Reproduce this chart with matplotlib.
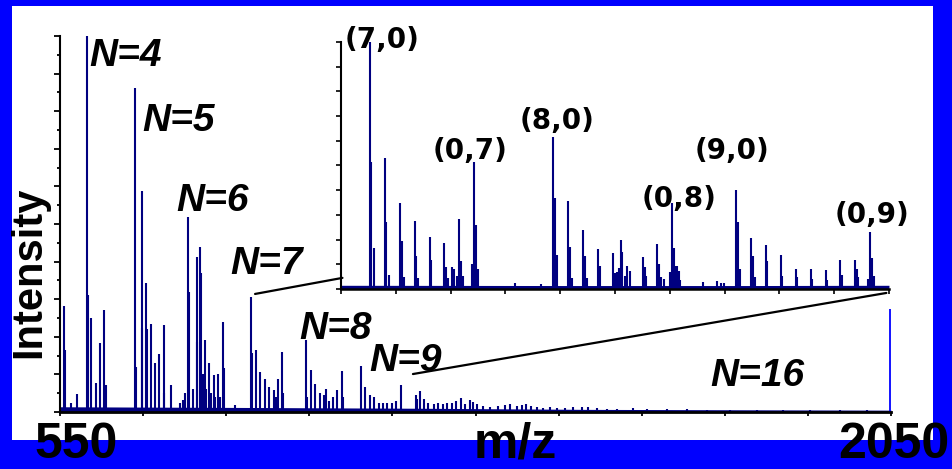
import numpy as np
import matplotlib
matplotlib.use('Agg')
import matplotlib.pyplot as plt
from matplotlib.patches import Rectangle, ConnectionPatch

# main spectrum (m/z, relative intensity %)
main_mz = [556.7, 559.0, 570.4, 581.2, 598.2, 599.6, 605.4, 614.1, 621.7, 630.0, 632.1,
           685.4, 686.8, 697.1, 698.6, 704.7, 706.1, 713.4, 721.5, 729.2, 736.8, 738.5, 749.8,
           766.6, 771.5, 775.6, 781.1, 782.9, 789.5, 796.4, 797.8, 803.3, 804.9, 808.0, 811.7,
           814.0, 819.5, 822.0, 827.4, 830.0, 835.7, 838.0, 844.2, 846.4, 865.9,
           894.8, 897.1, 903.3, 911.6, 919.1, 927.3, 935.4, 940.0, 943.2, 951.3, 953.0,
           994.1, 996.4, 1002.6, 1010.3, 1018.4, 1026.5, 1030.7, 1035.0, 1042.8, 1050.6, 1058.5, 1060.5,
           1093.3, 1101.1, 1109.6, 1117.3, 1125.0, 1133.0, 1141.0, 1149.3, 1157.0, 1165.5,
           1192.6, 1195.0, 1199.8, 1207.6, 1215.0, 1225.0, 1232.0,
           1241.9, 1248.0, 1257.0, 1264.8, 1273.3, 1281.1, 1290.1, 1296.1, 1303.3, 1314.1, 1326.2,
           1341.2, 1353.3, 1362.3, 1374.4, 1383.4, 1391.2, 1399.7, 1410.5, 1422.4, 1434.5, 1446.6,
           1461.6, 1476.6, 1491.7, 1503.6, 1518.8, 1536.8, 1554.9, 1584.9, 1609.0, 1645.1, 1681.2,
           1717.3, 1759.4, 1807.6, 1855.6, 1903.8, 1958.0, 2006.1]
main_int = [28.2, 16.5, 2.4, 4.8, 100, 31, 25, 7.8, 18.3, 27, 7.2,
            86.3, 12, 58.9, 22.3, 34.2, 22, 23.5, 13, 15.3, 23.1, 5, 7.2,
            2.4, 3.2, 5, 51.9, 32, 6, 41.3, 18.7, 43.8, 36.9, 10, 19.1,
            6, 13, 5, 9.8, 4, 10.2, 4, 24, 11.7, 1.9,
            30.7, 15.8, 16.4, 10.7, 8.7, 6.6, 5.9, 4, 8.8, 15.9, 5,
            19.1, 4, 11.2, 7.4, 5.1, 4.5, 6.1, 3, 4, 5.9, 10.9, 4,
            12.3, 6.6, 4.5, 3.9, 2.4, 2.4, 2.4, 2.4, 3, 7.2,
            4.5, 3.5, 5.7, 3.5, 2.5, 2, 2.4,
            2.0, 2.5, 2.3, 2.8, 3.7, 2.2, 3.1, 2.6, 2.2, 1.5, 1.3,
            1.6, 1.8, 2.0, 1.6, 1.9, 2.1, 1.6, 1.3, 1.2, 1.3, 1.1,
            1.2, 1.3, 1.4, 1.3, 1.0, 0.9, 0.8, 1.0, 0.8, 0.7, 0.7,
            0.6, 0.6, 0.6, 0.5, 0.5, 0.5, 0.5]
main_noise_mz = [550, 900, 1200, 1500, 2050]
main_noise = [1.4, 1.2, 1.0, 0.7, 0.5]
end_mz = 2048
end_int = 27.4

# zoomed region (inset)
inset_mz = [894.8, 895.5, 897.0, 902.9, 903.6, 904.9, 910.8, 911.8, 913.0, 919.0, 919.9, 921.0,
            927.1, 928.0, 935.1, 936.0, 937.2, 938.9, 940.0, 941.7, 943.2, 944.1, 945.4,
            950.2, 951.3, 952.0, 953.1, 973.4, 987.6,
            994.0, 994.9, 995.9, 1002.1, 1003.0, 1004.1, 1010.2, 1011.3, 1012.2, 1018.4, 1019.2,
            1026.3, 1027.4, 1028.5, 1029.5, 1030.8, 1031.5, 1033.0, 1034.1, 1035.5,
            1042.6, 1043.6, 1044.4, 1050.5, 1051.6, 1052.7, 1053.9, 1057.5,
            1058.6, 1059.3, 1060.3, 1061.2, 1062.1, 1063.0, 1075.1, 1082.7, 1085.0, 1086.8,
            1093.2, 1094.0, 1095.0, 1101.3, 1102.2, 1103.3, 1109.4, 1110.1, 1117.6, 1118.3,
            1125.5, 1126.2, 1133.6, 1134.4, 1141.7, 1142.5, 1149.7, 1150.4,
            1157.8, 1158.6, 1159.3, 1164.9, 1165.8, 1166.7, 1167.8]
inset_int = [100, 51.3, 16.5, 53.2, 27.3, 5.7, 34.7, 19.4, 5, 27.7, 13.4, 4.5,
             20.9, 11.7, 18.7, 9, 4.6, 8.8, 8, 5.3, 28.2, 11.5, 5.3,
             10, 51.4, 25.9, 8, 2.6, 2,
             61.7, 36.7, 13.8, 35.6, 16.9, 4.5, 23.9, 13.4, 4.5, 16.2, 9.3,
             14.7, 6.6, 7, 8.4, 19.8, 15.1, 5.3, 9.3, 7.3,
             13.1, 8.8, 5.3, 18.2, 10.1, 5, 4, 7,
             34.9, 16.5, 9.4, 9.4, 7.3, 3.7, 2.7, 3.2, 2.5, 2.5,
             40.1, 27, 8, 20.5, 13.4, 4.9, 17.8, 11.5, 13.8, 5.3,
             8, 4.9, 8.1, 4, 7.7, 3.8, 11.7, 5.7,
             11.7, 8, 4.9, 4, 23, 12.4, 5.4]
inset_noise_mz = [879, 1000, 1100, 1176]
inset_noise = [1.5, 1.4, 1.4, 1.5]

main_labels = ['N=4', 'N=5', 'N=6', 'N=7', 'N=8', 'N=9', 'N=16']
main_label_x = [668, 764, 826, 923, 1047, 1174, 1808]
main_label_y = [94.6, 77.4, 56.0, 39.3, 22.0, 13.5, 9.6]

inset_labels = ['(7,0)', '(0,7)', '(8,0)', '(0,8)', '(9,0)', '(0,9)']
inset_label_x = [901.5, 948.9, 996.0, 1062.2, 1090.9, 1166.8]
inset_label_y = [101.0, 56.0, 68.2, 36.6, 55.7, 29.8]

zoom_main_pts = [(902, 31.4), (1187, 10.1)]
zoom_inset_pts = [(879.8, 4.5), (1174.6, -1.6)]

navy = '#000080'
blue = '#0000ff'

fig = plt.figure(figsize=(9.53, 4.69), dpi=100)
fig.patch.set_facecolor(blue)
fig.add_artist(Rectangle((0.0126, 0.0618), 0.9664, 0.9254, transform=fig.transFigure,
                         facecolor='white', edgecolor='none', zorder=-5))

ax = fig.add_axes([0.0630, 0.1215, 0.8720, 0.8017])
ax.set_facecolor('none')
ax.vlines(main_mz, 0, main_int, color=navy, lw=1.5)
ax.fill_between(main_noise_mz, 0, main_noise, color=navy, lw=0)
ax.vlines(end_mz, 0, end_int, color=blue, lw=1.3)
ax.set_xlim(550, 2050)
ax.set_ylim(0, 100)
ax.set_xticks(np.arange(550, 2051, 150))
ax.set_yticks(np.arange(0, 101, 10))
ax.set_yticks(np.arange(5, 100, 10), minor=True)
ax.tick_params(axis='both', which='both', direction='out', labelbottom=False, labelleft=False,
               width=1.3, color='black')
ax.tick_params(axis='y', which='major', length=4)
ax.tick_params(axis='y', which='minor', length=2.2)
ax.tick_params(axis='x', length=3)
for s in ['top', 'right']:
    ax.spines[s].set_visible(False)
ax.spines['left'].set_linewidth(1.5)
ax.spines['bottom'].set_linewidth(2.0)

for t, x, y in zip(main_labels, main_label_x, main_label_y):
    ax.text(x, y, t, ha='center', va='center', fontsize=28, fontweight='bold',
            fontstyle='italic', family='Liberation Sans')

axin = fig.add_axes([0.3578, 0.3838, 0.5750, 0.5267])
axin.set_facecolor('none')
axin.vlines(inset_mz, 0, inset_int, color=navy, lw=1.5)
axin.fill_between(inset_noise_mz, 0, inset_noise, color=navy, lw=0)
axin.set_xlim(879, 1176)
axin.set_ylim(0, 100)
axin.set_xticks(np.linspace(879, 1176, 11))
axin.set_yticks(np.linspace(0, 100, 11))
axin.tick_params(direction='out', length=3.5, width=1.2, labelbottom=False, labelleft=False)
for s in ['top', 'right']:
    axin.spines[s].set_visible(False)
axin.spines['left'].set_linewidth(1.5)
axin.spines['bottom'].set_linewidth(1.8)

for t, x, y in zip(inset_labels, inset_label_x, inset_label_y):
    axin.text(x, y, t, ha='center', va='center', fontsize=20, fontweight='bold',
              family='DejaVu Sans')

for a, b in zip(zoom_main_pts, zoom_inset_pts):
    con = ConnectionPatch(xyA=a, coordsA=ax.transData, xyB=b, coordsB=axin.transData,
                          color='black', lw=1.6)
    fig.add_artist(con)

fig.text(0.031, 0.419, 'Intensity', rotation=90, ha='center', va='center', fontsize=30,
         fontweight='bold', family='Liberation Sans')
fig.text(0.0803, 0.0512, '550', ha='center', va='center', fontsize=36, fontweight='bold',
         family='Liberation Sans')
fig.text(0.5404, 0.0512, 'm/z', ha='center', va='center', fontsize=36, fontweight='bold',
         family='Liberation Sans')
fig.text(0.9376, 0.0512, '2050', ha='center', va='center', fontsize=36, fontweight='bold',
         family='Liberation Sans')

fig.savefig('out.png', dpi=100, facecolor=fig.get_facecolor())
